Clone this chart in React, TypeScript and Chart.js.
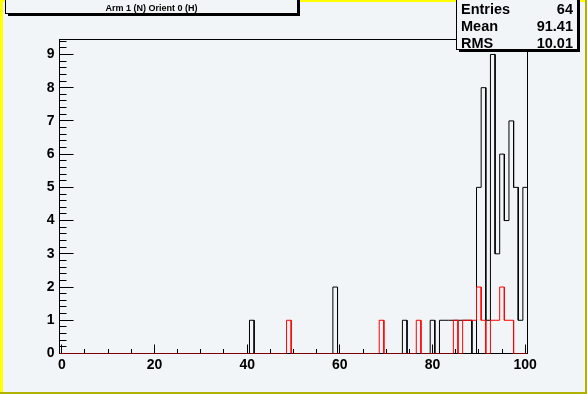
import React, { useEffect, useRef } from "react";
import { Chart, registerables } from "chart.js";

Chart.register(...registerables);

// ---- data ----
const binLow = -0.5;
const binHigh = 100.5;
const binCount = 101;

const blackBins = [41, 59, 74, 80, 82, 83, 84, 85, 86, 87, 88, 90, 91, 92, 93, 94, 95, 96, 97, 98, 99, 100];
const blackCounts = [1, 2, 1, 1, 1, 1, 1, 1, 1, 1, 1, 5, 8, 1, 9, 3, 6, 4, 7, 5, 1, 5];

const redBins = [49, 69, 77, 85, 87, 88, 89, 90, 91, 93, 94, 95, 96, 97];
const redCounts = [1, 1, 1, 1, 1, 1, 1, 2, 1, 1, 1, 2, 1, 1];

const xTickValues = [0, 20, 40, 60, 80, 100];
const yTickValues = [0, 1, 2, 3, 4, 5, 6, 7, 8, 9];
const yMax = 9.45;

const titleText = "Arm 1 (N) Orient 0 (H)";
const statLabels = ["Entries", "Mean", "RMS"];
const statValues = ["64", "91.41", "10.01"];

// ---- helpers ----
function stepOutline(bins: number[], counts: number[]) {
  const width = (binHigh - binLow) / binCount;
  const full = new Array(binCount).fill(0);
  bins.forEach((b, i) => {
    const idx = Math.round((b - binLow) / width - 0.5);
    full[idx] = counts[i];
  });
  const pts: { x: number; y: number }[] = [{ x: binLow, y: 0 }];
  for (let i = 0; i < binCount; i++) {
    const xl = binLow + i * width;
    const xr = xl + width;
    pts.push({ x: xl, y: full[i] });
    pts.push({ x: xr, y: full[i] });
  }
  pts.push({ x: binHigh, y: 0 });
  return pts;
}

const FONT = "'Liberation Sans', Arial, Helvetica, sans-serif";
const BG = "#f2f5f7";
const W = 587;
const H = 394;

const decorPlugin = {
  id: "decor",
  beforeDraw(chart: any) {
    const ctx = chart.ctx as CanvasRenderingContext2D;
    ctx.save();
    ctx.fillStyle = BG;
    ctx.fillRect(0, 0, W, H);
    // bevelled canvas border
    ctx.fillStyle = "#b0b000";
    ctx.fillRect(0, H - 2, W, 2);
    ctx.fillRect(W - 2, 0, 2, H);
    ctx.fillStyle = "#ffff00";
    ctx.fillRect(0, 0, W - 2, 2);
    ctx.fillRect(0, 0, 3, H - 2);
    ctx.restore();
  },
  beforeDatasetsDraw(chart: any) {
    const ctx = chart.ctx as CanvasRenderingContext2D;
    const a = chart.chartArea;
    const xs = chart.scales.x;
    const ys = chart.scales.y;
    ctx.save();
    ctx.strokeStyle = "#000";
    ctx.lineWidth = 1;
    ctx.strokeRect(a.left, a.top, a.right - a.left, a.bottom - a.top);
    ctx.beginPath();
    // x ticks (inside, pointing up)
    for (let v = 0; v <= 100; v += 5) {
      const px = Math.floor(xs.getPixelForValue(v)) + 0.5;
      const len = v % 20 === 0 ? 9 : 4.5;
      ctx.moveTo(px, a.bottom);
      ctx.lineTo(px, a.bottom - len);
    }
    // y ticks (inside, pointing right)
    for (let k = 0; k * 0.2 <= yMax + 1e-9; k++) {
      const v = k * 0.2;
      const py = Math.floor(ys.getPixelForValue(v)) + 0.5;
      const len = k % 5 === 0 ? 14 : 7;
      ctx.moveTo(a.left, py);
      ctx.lineTo(a.left + len, py);
    }
    ctx.stroke();
    ctx.restore();
  },
  afterDraw(chart: any) {
    const ctx = chart.ctx as CanvasRenderingContext2D;
    ctx.save();
    // title pave
    ctx.fillStyle = "#000";
    ctx.fillRect(8, 0, 292, 16);
    ctx.fillStyle = BG;
    ctx.fillRect(5, -5, 293, 19);
    ctx.strokeStyle = "#000";
    ctx.lineWidth = 1;
    ctx.strokeRect(5.5, -5, 292, 18.5);
    ctx.fillStyle = "#000";
    ctx.font = `bold 9px ${FONT}`;
    ctx.textAlign = "center";
    ctx.textBaseline = "alphabetic";
    ctx.fillText(titleText, 151.5, 11);

    // stats box
    ctx.fillStyle = "#000";
    ctx.fillRect(459, 0, 121, 52);
    ctx.fillStyle = BG;
    ctx.fillRect(456, -5, 122, 55);
    ctx.strokeRect(456.5, -5, 121, 54.5);
    ctx.fillStyle = "#000";
    ctx.font = `bold 14.5px ${FONT}`;
    const baselines = [13.5, 30.5, 47.5];
    statLabels.forEach((lab, i) => {
      ctx.textAlign = "left";
      ctx.fillText(lab, 461, baselines[i]);
      ctx.textAlign = "right";
      ctx.fillText(statValues[i], 573, baselines[i]);
    });
    ctx.restore();
  },
};

export default function App() {
  const ref = useRef<HTMLCanvasElement | null>(null);

  useEffect(() => {
    document.body.style.margin = "0";
    const canvas = ref.current;
    if (!canvas) return;
    const tickFont = { family: FONT, size: 14, weight: "bold" as const };
    const chart = new Chart(canvas, {
      type: "line",
      data: {
        datasets: [
          {
            label: "red",
            data: stepOutline(redBins, redCounts),
            borderColor: "#ff0000",
            borderWidth: 1,
            pointRadius: 0,
            tension: 0,
            fill: false,
            order: 0,
          },
          {
            label: "black",
            data: stepOutline(blackBins, blackCounts),
            borderColor: "#000000",
            borderWidth: 1,
            pointRadius: 0,
            tension: 0,
            fill: false,
            order: 1,
          },
        ],
      },
      options: {
        animation: false,
        responsive: false,
        maintainAspectRatio: false,
        devicePixelRatio: 1,
        events: [],
        layout: { padding: { left: 0, top: 39.5, right: W - 527.5, bottom: 0 } },
        plugins: { legend: { display: false }, tooltip: { enabled: false }, title: { display: false } },
        scales: {
          x: {
            type: "linear",
            min: binLow,
            max: binHigh,
            grid: { display: false, drawTicks: false },
            border: { display: false },
            ticks: {
              font: tickFont,
              color: "#000",
              padding: 3,
              maxRotation: 0,
              autoSkip: false,
              callback: (v: any) => String(v),
            },
            afterBuildTicks: (s: any) => {
              s.ticks = xTickValues.map((v) => ({ value: v }));
            },
            afterFit: (s: any) => {
              s.height = H - 353.5;
            },
          },
          y: {
            type: "linear",
            min: 0,
            max: yMax,
            grid: { display: false, drawTicks: false },
            border: { display: false },
            ticks: {
              font: tickFont,
              color: "#000",
              padding: 5,
              autoSkip: false,
              callback: (v: any) => String(v),
            },
            afterBuildTicks: (s: any) => {
              s.ticks = yTickValues.map((v) => ({ value: v }));
            },
            afterFit: (s: any) => {
              s.width = 59.5;
            },
          },
        },
      },
      plugins: [decorPlugin],
    });
    return () => chart.destroy();
  }, []);

  return (
    <div style={{ position: "fixed", left: 0, top: 0, width: W, height: H, background: BG }}>
      <canvas ref={ref} width={W} height={H} style={{ display: "block" }} />
    </div>
  );
}
